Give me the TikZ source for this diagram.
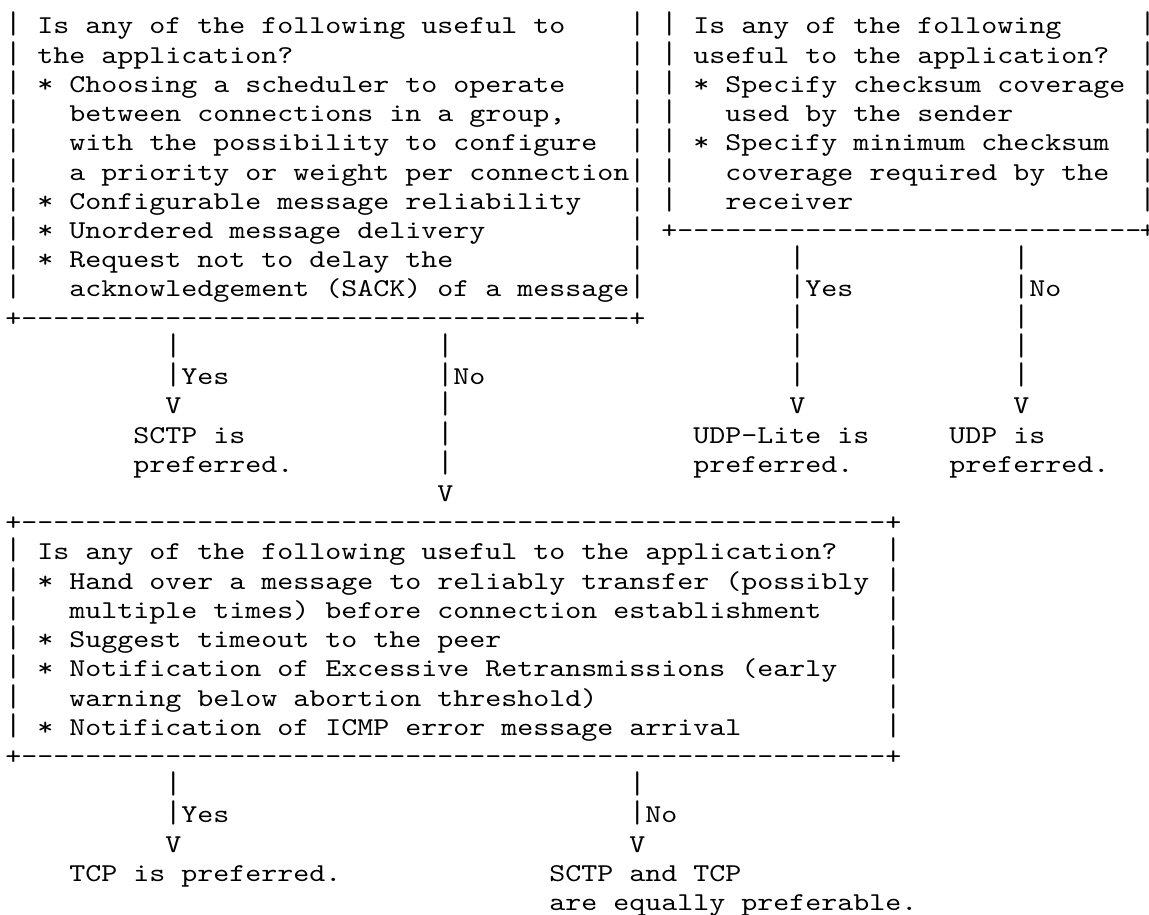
\documentclass[tikz,border=0pt]{standalone}
\usepackage{fontspec}
\setmonofont{lmmono10-regular.otf}
\usepackage{graphicx}
\ExplSyntaxOn
\cs_new:Npn \myrpt #1#2 { \prg_replicate:nn {#1} {#2} }
\ExplSyntaxOff
\frenchspacing
\newcommand\myhsc{1.1858}
% a vertical bar stretched so that bars on consecutive lines almost meet
\newcommand\vb{\scalebox{1}[1.22]{|}}
\tikzset{
  txt/.style={anchor=base west,inner sep=0pt,outer sep=0pt,text=black,
    font=\fontsize{25.7pt}{29pt}\selectfont\ttfamily}
}
% name, column, row, text
\newcommand\asc[4]{\node[txt] (#1) at ({5.3+16*(#2)},{34+29.22*((#3)-1)}) {\scalebox{\myhsc}[1]{#4}};}
\begin{document}
\begin{tikzpicture}[x=1pt,y=-1pt]
\fill[white] (0,0) rectangle (1149,915);
\useasboundingbox (0,0) rectangle (1149,915);
% box A (top left)
\foreach \r in {1,...,10}{\asc{boxAl\r}{0}{\r}{\vb}\asc{boxAr\r}{39}{\r}{\vb}}
\asc{aT1}{2}{1}{Is any of the following useful to}
\asc{aT2}{2}{2}{the application?}
\asc{aT3}{2}{3}{* Choosing a scheduler to operate}
\asc{aT4}{4}{4}{between connections in a group,}
\asc{aT5}{4}{5}{with the possibility to configure}
\asc{aT6}{4}{6}{a priority or weight per connection}
\asc{aT7}{2}{7}{* Configurable message reliability}
\asc{aT8}{2}{8}{* Unordered message delivery}
\asc{aT9}{2}{9}{* Request not to delay the}
\asc{aT10}{4}{10}{acknowledgement (SACK) of a message}
\asc{boxAbot}{0}{11}{+\myrpt{38}{-}+}
% box B (top right)
\foreach \r in {1,...,7}{\asc{boxBl\r}{41}{\r}{\vb}\asc{boxBr\r}{70.9}{\r}{\vb}}
\asc{bT1}{43}{1}{Is any of the following}
\asc{bT2}{43}{2}{useful to the application?}
\asc{bT3}{43}{3}{* Specify checksum coverage}
\asc{bT4}{45}{4}{used by the sender}
\asc{bT5}{43}{5}{* Specify minimum checksum}
\asc{bT6}{45}{6}{coverage required by the}
\asc{bT7}{45}{7}{receiver}
\asc{boxBbot}{41}{8}{+\myrpt{29}{-}}
\asc{boxBcorner}{70.9}{8}{+}
% box B branches
\foreach \r in {9,11,12,13}{\asc{bYes\r}{49}{\r}{\vb}\asc{bNo\r}{63}{\r}{\vb}}
\asc{bYesL}{49}{10}{\vb Yes}
\asc{bNoL}{63}{10}{\vb No}
\asc{bYesV}{49}{14}{V}
\asc{bNoV}{63}{14}{V}
\asc{udpl1}{43}{15}{UDP-Lite is}
\asc{udpl2}{43}{16}{preferred.}
\asc{udp1}{59}{15}{UDP is}
\asc{udp2}{59}{16}{preferred.}
% box A branches
\asc{aYes12}{10}{12}{\vb}
\asc{aYesL}{10}{13}{\vb Yes}
\asc{aYesV}{10}{14}{V}
\asc{sctp1}{8}{15}{SCTP is}
\asc{sctp2}{8}{16}{preferred.}
\foreach \r in {12,14,15,16}{\asc{aNo\r}{27}{\r}{\vb}}
\asc{aNoL}{27}{13}{\vb No}
\asc{aNoV}{27}{17}{V}
% box C (bottom)
\asc{boxCtop}{0}{18}{+\myrpt{54}{-}+}
\foreach \r in {19,...,25}{\asc{boxCl\r}{0}{\r}{\vb}\asc{boxCr\r}{55}{\r}{\vb}}
\asc{cT19}{2}{19}{Is any of the following useful to the application?}
\asc{cT20}{2}{20}{* Hand over a message to reliably transfer (possibly}
\asc{cT21}{4}{21}{multiple times) before connection establishment}
\asc{cT22}{2}{22}{* Suggest timeout to the peer}
\asc{cT23}{2}{23}{* Notification of Excessive Retransmissions (early}
\asc{cT24}{4}{24}{warning below abortion threshold)}
\asc{cT25}{2}{25}{* Notification of ICMP error message arrival}
\asc{boxCbot}{0}{26}{+\myrpt{54}{-}+}
% box C branches
\asc{cYes27}{10}{27}{\vb}
\asc{cYesL}{10}{28}{\vb Yes}
\asc{cYesV}{10}{29}{V}
\asc{cNo27}{39}{27}{\vb}
\asc{cNoL}{39}{28}{\vb No}
\asc{cNoV}{39}{29}{V}
\asc{tcp}{4}{30}{TCP is preferred.}
\asc{both1}{34}{30}{SCTP and TCP}
\asc{both2}{34}{31}{are equally preferable.}
\end{tikzpicture}
\end{document}
